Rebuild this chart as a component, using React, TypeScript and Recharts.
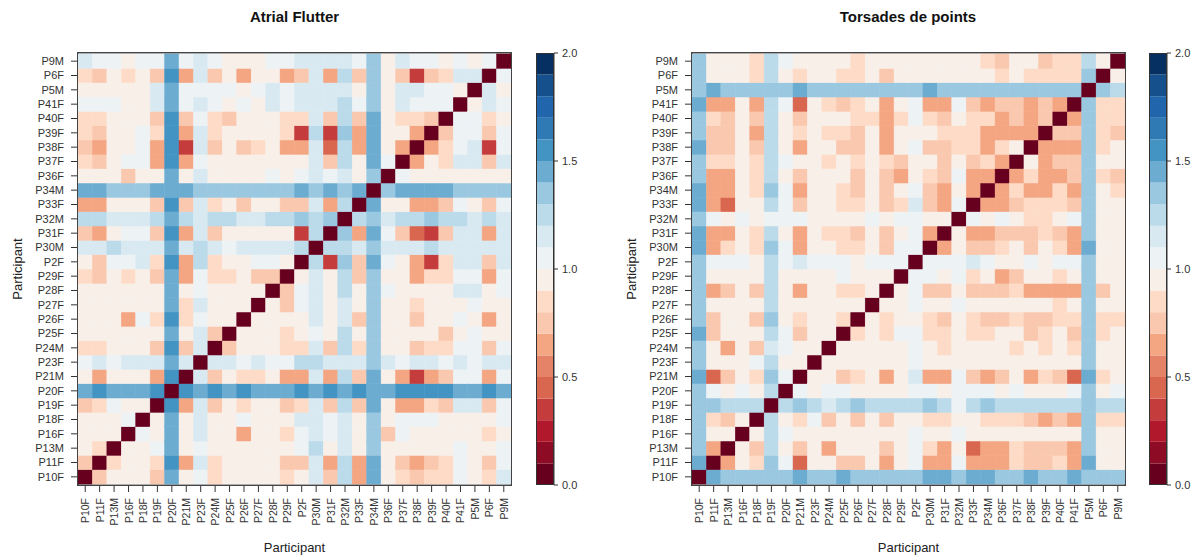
import React from "react";
import { ScatterChart, Scatter, BarChart, Bar, XAxis, YAxis } from "recharts";

const participants = [
  "P10F", "P11F", "P13M", "P16F", "P18F", "P19F", "P20F", "P21M", "P23F", "P24M",
  "P25F", "P26F", "P27F", "P28F", "P29F", "P2F", "P30M", "P31F", "P32M", "P33F",
  "P34M", "P36F", "P37F", "P38F", "P39F", "P40F", "P41F", "P5M", "P6F", "P9M",
];

// RdBu, one colour per 0.1 step from 0 to 2
const palette = [
  "#67001f", "#8e0b25", "#b2182b", "#c43c3c", "#d9664f", "#e58368", "#f4a582", "#fac8ae", "#fddbc7", "#f8efe9",
  "#edf2f5", "#d9e9f1", "#bbdaea", "#9ac8e0", "#6cacd1", "#4393c3", "#2f7ab5", "#2166ac", "#15508d", "#053061",
];

const legendTicks = [0, 0.5, 1, 1.5, 2];

// Lower triangle, the matrix is symmetric. Rows run from P10F (bottom) to P9M (top).
const flutterRows = [
  [0],
  [.75, 0],
  [.95, .85, 0],
  [.95, .95, .95, 0],
  [.95, .95, .95, 1.05, 0],
  [.75, .85, 1.05, .95, .95, 0],
  [1.45, 1.55, 1.45, 1.45, 1.45, 1.55, 0],
  [.95, .65, .95, .95, .95, .65, 1.55, 0],
  [1.05, 1.15, 1.05, 1.15, 1.15, 1.15, 1.45, 1.15, 0],
  [.85, .85, .95, .95, .95, .75, 1.55, .75, 1.15, 0],
  [.95, .95, .95, .95, .95, .95, 1.45, .95, 1.15, .75, 0],
  [.95, .95, .95, .65, 1.05, .85, 1.55, .85, 1.05, .95, .95, 0],
  [.95, .95, .95, .95, .95, .95, 1.45, .85, 1.15, .95, .95, .95, 0],
  [.95, .95, .95, .95, .95, .95, 1.45, .95, 1.05, .95, .95, .95, .95, 0],
  [.85, .75, .95, .85, .95, .75, 1.45, .65, 1.05, .85, .85, .95, .75, .75, 0],
  [.95, .75, 1.05, 1.05, 1.15, .85, 1.55, .65, 1.25, .85, .95, .95, 1.05, 1.05, .95, 0],
  [1.15, 1.15, 1.25, 1.15, 1.15, 1.15, 1.45, 1.15, 1.25, 1.15, 1.05, 1.15, 1.15, 1.15, 1.15, 1.25, 0],
  [.75, .65, .95, 1.05, 1.05, .75, 1.55, .65, 1.15, .75, .95, .95, .95, .95, .95, .35, 1.25, 0],
  [1.25, 1.25, 1.15, 1.15, 1.15, 1.25, 1.45, 1.25, 1.15, 1.25, 1.25, 1.15, 1.15, 1.25, 1.25, 1.35, 1.25, 1.35, 0],
  [.65, .65, .95, .95, .95, .75, 1.55, .75, 1.15, .85, .95, .75, .95, .95, .75, .75, 1.15, .65, 1.25, 0],
  [1.45, 1.45, 1.35, 1.35, 1.35, 1.45, 1.45, 1.45, 1.35, 1.35, 1.35, 1.35, 1.35, 1.35, 1.35, 1.45, 1.35, 1.45, 1.35, 1.45, 0],
  [.95, .95, .95, .75, .95, .95, 1.45, .95, 1.15, .95, .95, .95, .95, 1.05, .95, 1.05, 1.15, 1.05, 1.15, .95, 1.35, 0],
  [.85, .75, .95, 1.05, 1.05, .65, 1.55, .65, 1.05, .95, .95, .95, .95, .95, .95, .95, 1.15, .75, 1.25, .95, 1.45, 1.05, 0],
  [.75, .65, .95, .95, 1.05, .65, 1.55, .35, 1.15, .75, .95, .75, .85, .95, .65, .65, 1.15, .45, 1.25, .65, 1.45, .95, .65, 0],
  [.85, .75, .95, .95, 1.05, .85, 1.55, .65, 1.15, .85, .95, .95, .95, .95, .85, .35, 1.25, .35, 1.35, .65, 1.45, .95, .95, .65, 0],
  [.85, .85, .95, .95, .95, .75, 1.55, .75, 1.05, .85, .75, .95, .95, .95, .85, .85, 1.15, .75, 1.25, .75, 1.45, .95, .85, .85, .75, 0],
  [1.05, 1.05, 1.05, .95, .95, 1.15, 1.45, 1.05, 1.15, 1.05, .95, 1.05, .95, 1.15, 1.05, 1.15, 1.15, 1.15, 1.25, 1.05, 1.35, .95, 1.15, 1.05, 1.05, 1.05, 0],
  [.95, .95, .95, .95, .95, 1.15, 1.45, 1.05, 1.05, 1.05, 1.05, .95, 1.05, 1.15, 1.05, 1.15, 1.15, 1.15, 1.15, .95, 1.35, .95, 1.15, 1.15, 1.05, 1.05, .95, 0],
  [.85, .75, .95, .85, .95, .75, 1.55, .65, 1.15, .75, .95, .65, .95, .95, .65, .75, 1.15, .65, 1.25, .75, 1.35, .95, .75, .35, .75, .85, 1.15, 1.15, 0],
  [1.15, 1.05, 1.05, .95, 1.05, 1.05, 1.45, 1.05, 1.15, 1.05, .95, .95, .95, 1.05, 1.05, 1.15, 1.15, 1.15, 1.15, 1.05, 1.35, .95, 1.15, 1.05, 1.05, .95, 1.05, .95, 1.05, 0],
];

const torsadesRows = [
  [0],
  [1.45, 0],
  [1.35, .65, 0],
  [1.35, .95, .95, 0],
  [1.35, .85, .75, .95, 0],
  [1.35, 1.35, 1.25, 1.25, 1.25, 0],
  [1.35, 1.05, .95, 1.05, .95, 1.25, 0],
  [1.45, .45, .75, .95, .85, 1.35, 1.05, 0],
  [1.35, .95, .95, .95, 1.05, 1.25, .95, .95, 0],
  [1.35, .95, .65, .95, .75, 1.15, 1.05, .95, .95, 0],
  [1.45, .75, .95, .95, .95, 1.25, 1.05, .75, .95, .95, 0],
  [1.35, .75, .95, .95, .75, 1.35, .95, .85, .95, .95, .85, 0],
  [1.35, .95, .95, .95, .95, 1.25, .95, .95, .95, .95, .95, .95, 0],
  [1.35, .65, .75, .95, .75, 1.25, .95, .65, .95, .95, .85, .85, .95, 0],
  [1.35, .95, .95, .95, .95, 1.25, .95, .95, .95, .95, 1.05, .95, .95, .95, 0],
  [1.35, 1.05, 1.05, 1.05, .95, 1.25, 1.05, 1.15, 1.05, 1.05, 1.05, .95, 1.05, 1.05, 1.05, 0],
  [1.45, .65, .85, .95, .85, 1.35, 1.05, .65, .95, .95, .85, .85, .95, .75, 1.05, 1.05, 0],
  [1.45, .65, .65, .95, .85, 1.25, .95, .65, .95, .85, .85, .75, .95, .75, .95, 1.05, .65, 0],
  [1.35, 1.05, .95, 1.05, .95, 1.05, 1.05, 1.05, .95, .95, .95, .95, 1.05, .95, 1.05, 1.05, .95, .95, 0],
  [1.45, .65, .45, .95, .95, 1.25, 1.05, .75, .95, .95, .85, .85, .95, .75, .85, 1.15, .75, .65, 1.05, 0],
  [1.45, .65, .65, .95, .85, 1.35, 1.05, .65, .95, .95, .85, .75, .95, .75, .95, 1.05, .75, .65, .95, .65, 0],
  [1.35, .65, .65, .95, .85, 1.25, .95, .75, .95, .95, .95, .75, .95, .75, .65, .95, .85, .75, 1.05, .65, .65, 0],
  [1.35, .85, .85, .95, .85, 1.25, 1.05, .95, .95, .85, .95, .85, .95, .85, .75, .95, .95, .75, .95, .75, .85, .65, 0],
  [1.45, .75, .75, .95, .75, 1.25, .95, .65, .95, .95, .75, .75, .95, .65, .95, 1.05, .75, .75, .85, .85, .65, .85, .95, 0],
  [1.35, .75, .75, .95, .65, 1.25, .95, .85, .95, .85, .85, .75, .95, .65, .95, .95, .95, .85, .85, .85, .65, .65, .65, .65, 0],
  [1.35, .85, .75, .95, .75, 1.25, .95, .75, .95, .95, .95, .85, .85, .65, .85, 1.05, .85, .75, .95, .85, .85, .65, .75, .65, .75, 0],
  [1.45, .65, .65, .95, .65, 1.25, 1.05, .45, .95, .85, .75, .85, .95, .65, .95, 1.05, .65, .65, 1.05, .75, .65, .75, .75, .65, .75, .65, 0],
  [1.35, 1.45, 1.35, 1.35, 1.35, 1.35, 1.35, 1.45, 1.35, 1.35, 1.35, 1.35, 1.35, 1.35, 1.35, 1.35, 1.45, 1.35, 1.35, 1.35, 1.35, 1.35, 1.35, 1.35, 1.35, 1.35, 1.35, 0],
  [1.35, .95, .95, .95, .85, 1.25, .95, .85, .95, .95, .85, .85, .95, .75, .95, .95, .95, .95, .95, .95, .95, .85, .95, .85, .85, .85, .85, 1.35, 0],
  [1.35, .95, .95, .95, .85, 1.25, 1.05, .95, .95, .95, .95, .85, .95, .95, .95, .95, .95, .95, .95, .95, .85, .75, .95, .95, .75, .85, .85, 1.25, .95, 0],
];

const CHART_W = 530;
const CHART_H = 556;
const Y_AXIS_W = 78;
const RIGHT_AXIS_W = 19;
const TOP = 53;
const BOTTOM = 71;
const PLOT_W = CHART_W - Y_AXIS_W - RIGHT_AXIS_W;
const PLOT_H = CHART_H - TOP - BOTTOM;
const Y_PAD = 0.07; // rows stop a pixel short of the frame
const CELL_W = PLOT_W / participants.length;
const CELL_H = PLOT_H / (participants.length + 2 * Y_PAD);
const LINE = "#333";
const FONT = "'Liberation Sans', Arial, sans-serif";

const colorFor = (v: number) => palette[Math.min(palette.length - 1, Math.floor(v * 10))];

const toCells = (rows: number[][]) => {
  const cells: { col: number; row: number; value: number }[] = [];
  rows.forEach((vals, r) => {
    vals.forEach((value, c) => {
      cells.push({ col: c, row: r, value });
      if (c !== r) cells.push({ col: r, row: c, value });
    });
  });
  return cells;
};

const HeatCell = (props: any) => {
  const { cx, cy, payload } = props;
  const fill = colorFor(payload.value);
  // thin stroke of the same colour closes the antialiasing seams between cells
  return (
    <rect
      x={cx - CELL_W / 2}
      y={cy - CELL_H / 2}
      width={CELL_W}
      height={CELL_H}
      fill={fill}
      stroke={fill}
      strokeWidth={0.5}
    />
  );
};

const RotatedTick = (props: any) => {
  const { x, y, payload } = props;
  return (
    <text
      x={x}
      y={y}
      transform={`rotate(-90, ${x}, ${y})`}
      textAnchor="end"
      dominantBaseline="central"
      fontSize={10.5}
      fontFamily={FONT}
      fill={LINE}
    >
      {participants[payload.value]}
    </text>
  );
};

const Heatmap = ({ title, rows, left }: { title: string; rows: number[][]; left: number }) => {
  const ticks = participants.map((_, i) => i);
  const xDomain: [number, number] = [-0.5, participants.length - 0.5];
  const yDomain: [number, number] = [-0.5 - Y_PAD, participants.length - 0.5 + Y_PAD];
  const noLabel = () => "";
  return (
    <div style={{ position: "absolute", left, top: 0, width: CHART_W, height: CHART_H }}>
      <div
        style={{
          position: "absolute",
          left: Y_AXIS_W,
          width: PLOT_W,
          top: 8,
          textAlign: "center",
          fontFamily: FONT,
          fontWeight: "bold",
          fontSize: 15,
          color: "#111",
        }}
      >
        {title}
      </div>
      <ScatterChart
        width={CHART_W}
        height={CHART_H}
        margin={{ top: TOP - 20, right: 0, bottom: 0, left: 0 }}
      >
        <XAxis
          type="number"
          dataKey="col"
          domain={xDomain}
          ticks={ticks}
          interval={0}
          height={BOTTOM}
          tickSize={7}
          tickMargin={6}
          tick={<RotatedTick />}
          stroke={LINE}
          label={{ value: "Participant", position: "center", dy: 27, fontSize: 13, fontFamily: FONT, fill: "#222" }}
        />
        <XAxis
          xAxisId="top"
          orientation="top"
          type="number"
          domain={xDomain}
          ticks={ticks}
          interval={0}
          height={20}
          tickSize={7}
          tickFormatter={noLabel}
          stroke={LINE}
        />
        <YAxis
          type="number"
          dataKey="row"
          domain={yDomain}
          ticks={ticks}
          interval={0}
          width={Y_AXIS_W}
          tickSize={7}
          tickMargin={7}
          tickFormatter={(i: number) => participants[i]}
          tick={{ fontSize: 11, fontFamily: FONT, fill: LINE }}
          stroke={LINE}
          label={{ value: "Participant", angle: -90, position: "center", dx: -22, fontSize: 13, fontFamily: FONT, fill: "#222" }}
        />
        <YAxis
          yAxisId="right"
          orientation="right"
          type="number"
          domain={yDomain}
          ticks={ticks}
          interval={0}
          width={RIGHT_AXIS_W}
          tickSize={7}
          tickFormatter={noLabel}
          stroke={LINE}
        />
        <Scatter data={toCells(rows)} shape={<HeatCell />} isAnimationActive={false} />
      </ScatterChart>
      {/* frame on top of the cells */}
      <div
        style={{
          position: "absolute",
          left: Y_AXIS_W - 1,
          top: TOP - 1,
          width: PLOT_W + 2,
          height: PLOT_H + 2,
          boxSizing: "border-box",
          border: "1.5px solid #444",
          pointerEvents: "none",
        }}
      />
    </div>
  );
};

const legendRow = [Object.fromEntries(palette.map((_, i) => [`bin${i}`, 0.1]))];

const ColorKey = ({ left }: { left: number }) => (
  <div style={{ position: "absolute", left, top: 0 }}>
    <BarChart
      width={51}
      height={CHART_H}
      data={legendRow}
      barCategoryGap={0}
      margin={{ top: TOP, right: 0, bottom: BOTTOM, left: 6 }}
    >
      <XAxis hide />
      <YAxis
        orientation="right"
        type="number"
        domain={[0, 2]}
        allowDataOverflow
        ticks={legendTicks}
        interval={0}
        width={27}
        tickSize={4}
        tickMargin={4}
        tickFormatter={(v: number) => v.toFixed(1)}
        tick={{ fontSize: 11, fontFamily: FONT, fill: LINE }}
        stroke={LINE}
      />
      {palette.map((c, i) => (
        <Bar key={c} dataKey={`bin${i}`} stackId="key" fill={c} stroke="none" isAnimationActive={false} />
      ))}
    </BarChart>
    {/* frame round the key */}
    <div
      style={{
        position: "absolute",
        left: 6,
        top: TOP,
        width: 18,
        height: PLOT_H,
        boxSizing: "border-box",
        border: `1px solid ${LINE}`,
      }}
    />
  </div>
);

export default function App() {
  return (
    <div style={{ position: "absolute", left: 0, top: 0, width: 1194, height: 556, background: "#fff", overflow: "hidden" }}>
      <Heatmap title="Atrial Flutter" rows={flutterRows} left={0} />
      <ColorKey left={530} />
      <Heatmap title="Torsades de points" rows={torsadesRows} left={613.5} />
      <ColorKey left={1143} />
    </div>
  );
}
